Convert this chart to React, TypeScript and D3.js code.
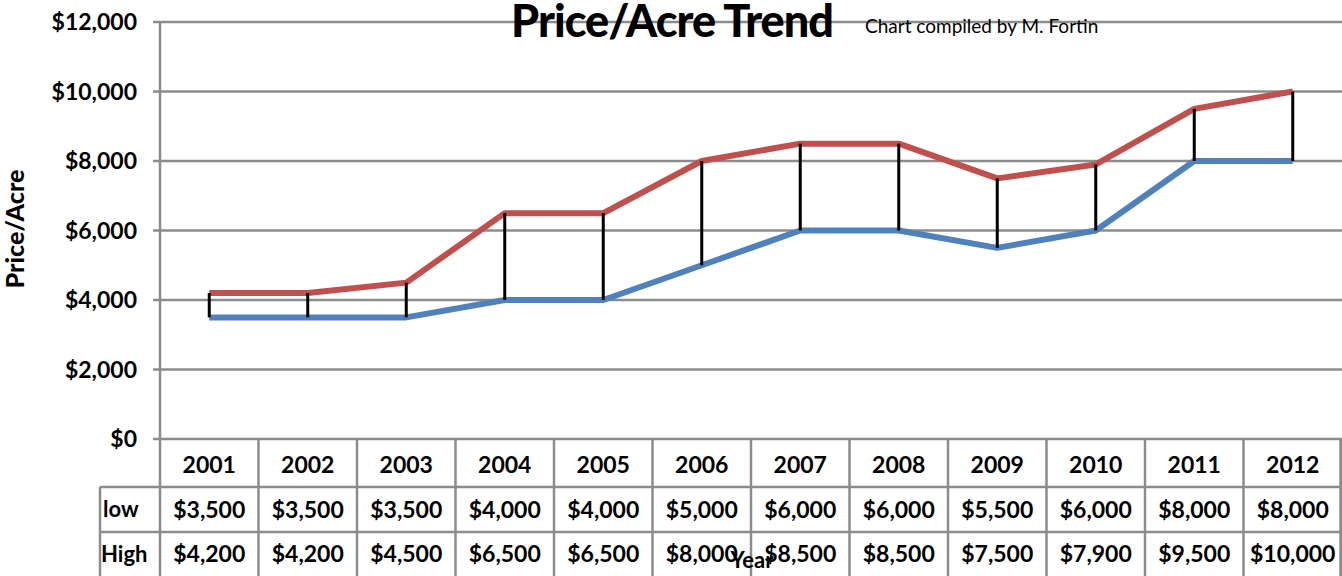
import React from 'react';
import * as d3 from 'd3';

const years = ['2001', '2002', '2003', '2004', '2005', '2006', '2007', '2008', '2009', '2010', '2011', '2012'];
const lowValues = [3500, 3500, 3500, 4000, 4000, 5000, 6000, 6000, 5500, 6000, 8000, 8000];
const highValues = [4200, 4200, 4500, 6500, 6500, 8000, 8500, 8500, 7500, 7900, 9500, 10000];
const rowLabels = ['low', 'High'];
const yTicks = [0, 2000, 4000, 6000, 8000, 10000, 12000];

const W = 1342;
const H = 576;
const margin = { top: 22, right: 0, bottom: 137, left: 160 };
const font = 'Lato, "Open Sans", sans-serif';
const grid = '#8c8c8c';

const App = () => {
  const x = d3.scaleBand().domain(years).range([margin.left, W - margin.right]);
  const y = d3.scaleLinear().domain([0, 12000]).range([H - margin.bottom, margin.top]);
  const money = (v: number) => '$' + d3.format(',')(v);
  const cx = (yr: string) => (x(yr) as number) + x.bandwidth() / 2;

  const line = d3.line<number>().x((_, i) => cx(years[i])).y(d => y(d));

  const axisY = y(0);
  const row1 = axisY + 48;
  const row2 = row1 + 45;
  const labelLeft = 100;

  return (
    <svg width={W} height={H} style={{ display: 'block', position: 'absolute', left: 0, top: 0 }}>
      <rect width={W} height={H} fill="#fff" />
      {/* gridlines + y ticks */}
      {yTicks.map(t => (
        <g key={t}>
          <line x1={margin.left - 7} x2={W} y1={y(t)} y2={y(t)} stroke={grid} strokeWidth={2.5} />
          <text x={137} y={y(t)} dy="0.35em" textAnchor="end" fontFamily={font} fontWeight={700} fontSize={23} fill="#000">
            {money(t)}
          </text>
        </g>
      ))}
      <line x1={margin.left} x2={margin.left} y1={margin.top} y2={H} stroke={grid} strokeWidth={2.5} />

      {/* data table */}
      <line x1={labelLeft} x2={W} y1={row1} y2={row1} stroke={grid} strokeWidth={2.5} />
      <line x1={labelLeft} x2={W} y1={row2} y2={row2} stroke={grid} strokeWidth={2.5} />
      <line x1={labelLeft} x2={labelLeft} y1={row1} y2={H} stroke={grid} strokeWidth={2.5} />
      {years.map(yr => (
        <line key={yr} x1={(x(yr) as number) + x.bandwidth()} x2={(x(yr) as number) + x.bandwidth()} y1={axisY} y2={H}
          stroke={grid} strokeWidth={2.5} />
      ))}
      <line x1={W - 1.5} x2={W - 1.5} y1={axisY} y2={H} stroke={grid} strokeWidth={2.5} />
      {years.map((yr, i) => (
        <g key={yr} fontFamily={font} fontWeight={700} fontSize={23} textAnchor="middle">
          <text x={cx(yr)} y={(axisY + row1) / 2 + 2} dy="0.35em">{yr}</text>
          <text x={cx(yr)} y={(row1 + row2) / 2} dy="0.35em">{money(lowValues[i])}</text>
          <text x={cx(yr)} y={row2 + 22} dy="0.35em">{money(highValues[i])}</text>
        </g>
      ))}
      <text x={103} y={(row1 + row2) / 2} dy="0.35em" fontFamily={font} fontWeight={700} fontSize={22}>{rowLabels[0]}</text>
      <text x={101} y={row2 + 22} dy="0.35em" fontFamily={font} fontWeight={700} fontSize={22}>{rowLabels[1]}</text>

      {/* series */}
      <path d={line(highValues) || ''} fill="none" stroke="#C0504D" strokeWidth={6} strokeLinejoin="round" />
      <path d={line(lowValues) || ''} fill="none" stroke="#4F81BD" strokeWidth={6} strokeLinejoin="round" />
      {years.map((yr, i) => (
        <line key={yr} x1={cx(yr)} x2={cx(yr)} y1={y(lowValues[i])} y2={y(highValues[i])} stroke="#000" strokeWidth={3} />
      ))}

      {/* titles */}
      <text x={672} y={37} textAnchor="middle" fontFamily={font} fontWeight={900} fontSize={45} letterSpacing={-1}>Price/Acre Trend</text>
      <text x={865} y={33} fontFamily={font} fontSize={19}>Chart compiled by M. Fortin</text>
      <text transform="translate(24,229) rotate(-90)" textAnchor="middle" fontFamily={font} fontWeight={900} fontSize={25}>Price/Acre</text>
      <text x={752} y={560} dy="0.35em" textAnchor="middle" fontFamily={font} fontWeight={700} fontSize={22}>Year</text>
    </svg>
  );
};

export default App;
